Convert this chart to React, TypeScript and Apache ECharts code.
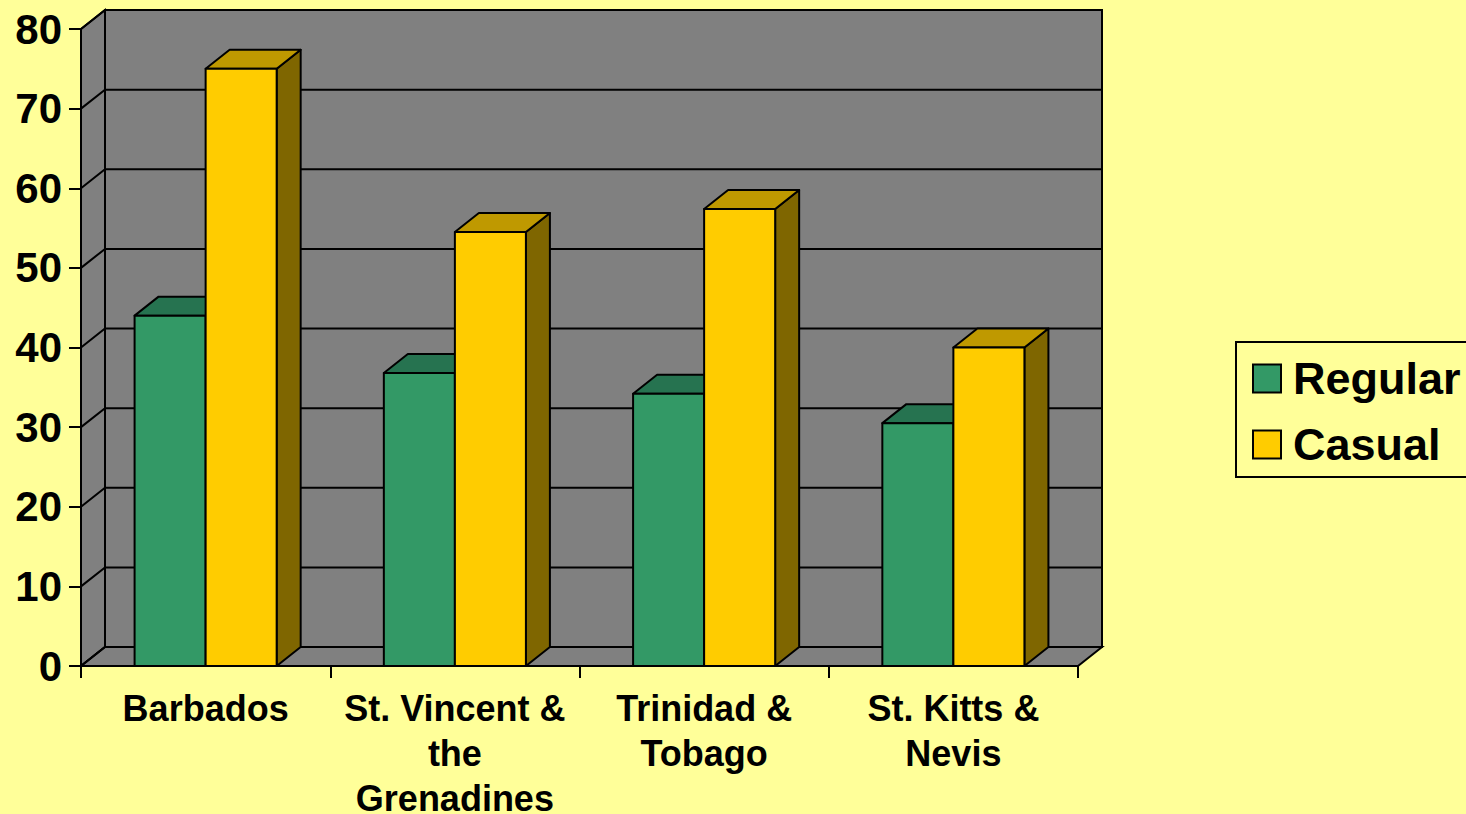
import React, { useEffect, useRef } from "react";
import * as echarts from "echarts";

const categories = [
  "Barbados",
  "St. Vincent &\nthe\nGrenadines",
  "Trinidad &\nTobago",
  "St. Kitts &\nNevis",
];
const regular = [44.0, 36.8, 34.2, 30.5];
const casual = [75.0, 54.5, 57.4, 40.0];
const yTicks = [0, 10, 20, 30, 40, 50, 60, 70, 80];

const DX = 24;
const DY = -19;
const FONT = 'Arial, "Liberation Sans", sans-serif';
const BG = "#FFFF99";
const WALL = "#808080";

function makeBarRender(front: string, top: string, side: string, seriesPos: number) {
  return (params: any, api: any) => {
    const idx = api.value(0);
    const val = api.value(1);
    const band = api.size([1, 0])[0];
    const w = band * 0.285;
    const c0 = api.coord([idx, 0]);
    const c1 = api.coord([idx, val]);
    const cx = c0[0];
    const x0 = seriesPos === 0 ? cx - w : cx;
    const x1 = x0 + w;
    const yb = c0[1];
    const yt = c1[1];
    const stroke = { stroke: "#000", lineWidth: 2, lineJoin: "round" };
    return {
      type: "group",
      children: [
        {
          type: "polygon",
          shape: { points: [[x1, yb], [x1 + DX, yb + DY], [x1 + DX, yt + DY], [x1, yt]] },
          style: { fill: side, ...stroke },
        },
        {
          type: "polygon",
          shape: { points: [[x0, yt], [x0 + DX, yt + DY], [x1 + DX, yt + DY], [x1, yt]] },
          style: { fill: top, ...stroke },
        },
        {
          type: "rect",
          shape: { x: x0, y: yt, width: w, height: yb - yt },
          style: { fill: front, ...stroke },
        },
      ],
    };
  };
}

function wallRender(params: any, api: any) {
  const cs = params.coordSys;
  const L = cs.x;
  const R = cs.x + cs.width;
  const yTop = api.coord([0, yTicks[yTicks.length - 1]])[1];
  const yBot = api.coord([0, 0])[1];
  const stroke = { stroke: "#000", lineWidth: 2 };
  const children: any[] = [
    {
      type: "rect",
      shape: { x: L + DX, y: yTop + DY, width: R - L, height: yBot - yTop },
      style: { fill: WALL, ...stroke },
    },
    {
      type: "polygon",
      shape: { points: [[L, yTop], [L + DX, yTop + DY], [L + DX, yBot + DY], [L, yBot]] },
      style: { fill: WALL, ...stroke },
    },
    {
      type: "polygon",
      shape: { points: [[L, yBot], [L + DX, yBot + DY], [R + DX, yBot + DY], [R, yBot]] },
      style: { fill: WALL, ...stroke },
    },
  ];
  yTicks.forEach((t) => {
    const y = api.coord([0, t])[1];
    children.push({
      type: "polyline",
      shape: { points: [[L, y], [L + DX, y + DY], [R + DX, y + DY]] },
      style: { fill: null, ...stroke },
    });
  });
  return { type: "group", children };
}

export default function App() {
  const ref = useRef<HTMLDivElement>(null);
  useEffect(() => {
    document.body.style.margin = "0";
    document.body.style.background = BG;
    const chart = echarts.init(ref.current!, null, { renderer: "svg" });
    chart.setOption({
      animation: false,
      backgroundColor: BG,
      grid: { left: 81, right: 388, top: 29, bottom: 148, outerBoundsMode: "none", containLabel: false },
      legend: {
        data: ["Regular", "Casual"],
        orient: "vertical",
        left: 1236,
        top: 342,
        padding: [14, 20, 10, 16],
        itemGap: 21,
        itemWidth: 28,
        itemHeight: 28,
        icon: "rect",
        borderColor: "#000",
        borderWidth: 2,
        backgroundColor: BG,
        textStyle: {
          fontFamily: FONT,
          fontWeight: "bold",
          fontSize: 45,
          lineHeight: 44,
          color: "#000",
          padding: [0, 0, 0, 7],
        },
      },
      xAxis: {
        type: "category",
        data: categories,
        z: 5,
        axisLine: { show: true, lineStyle: { color: "#000", width: 2 } },
        axisTick: { show: true, length: 12, lineStyle: { color: "#000", width: 2 } },
        axisLabel: {
          interval: 0,
          margin: 20,
          fontFamily: FONT,
          fontWeight: "bold",
          fontSize: 36,
          lineHeight: 45,
          color: "#000",
        },
        splitLine: { show: false },
      },
      yAxis: {
        type: "value",
        min: 0,
        max: 80,
        interval: 10,
        z: 5,
        axisLine: { show: true, lineStyle: { color: "#000", width: 2 } },
        axisTick: { show: true, length: 12, lineStyle: { color: "#000", width: 2 } },
        axisLabel: {
          margin: 19,
          fontFamily: FONT,
          fontWeight: "bold",
          fontSize: 42,
          color: "#000",
        },
        splitLine: { show: false },
      },
      series: [
        {
          name: "walls",
          type: "custom",
          z: 1,
          silent: true,
          renderItem: wallRender,
          data: [[0, 0]],
        },
        {
          name: "Regular",
          type: "custom",
          z: 2,
          itemStyle: { color: "#339966", borderColor: "#000", borderWidth: 1.5 },
          renderItem: makeBarRender("#339966", "#267350", "#1A4D33", 0),
          data: regular.map((v, i) => [i, v]),
        },
        {
          name: "Casual",
          type: "custom",
          z: 3,
          itemStyle: { color: "#FFCC00", borderColor: "#000", borderWidth: 1.5 },
          renderItem: makeBarRender("#FFCC00", "#BF9900", "#7F6600", 1),
          data: casual.map((v, i) => [i, v]),
        },
      ],
    });
    return () => chart.dispose();
  }, []);
  return (
    <div
      ref={ref}
      style={{ position: "fixed", left: 0, top: 0, width: 1466, height: 814, background: BG }}
    />
  );
}
